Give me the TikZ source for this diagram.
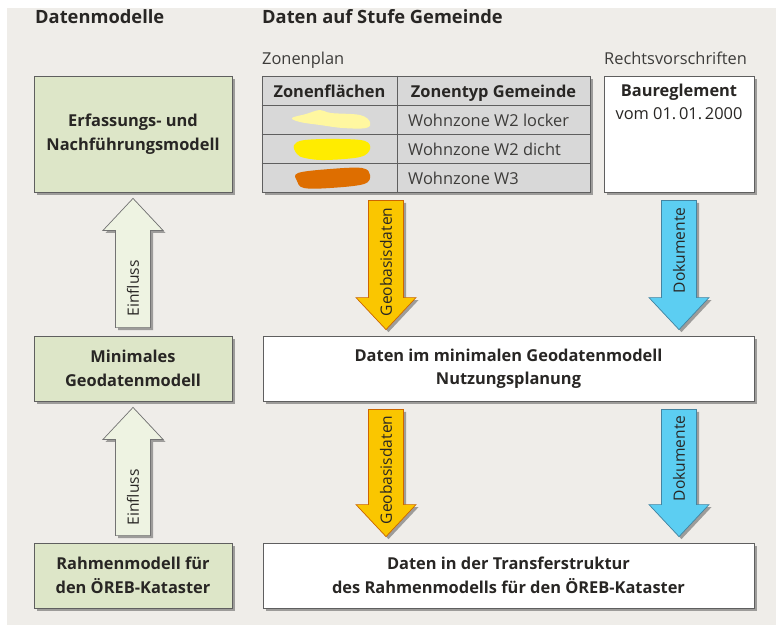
\documentclass[tikz,border=0pt]{standalone}
\usepackage{fontspec}
\setmainfont{Open Sans}
\usetikzlibrary{calc,shadows}

\definecolor{paper}{RGB}{239,237,233}
\definecolor{ink}{RGB}{40,38,36}
\definecolor{frame}{RGB}{95,95,95}
\definecolor{modellgreen}{RGB}{221,230,200}
\definecolor{einflussgreen}{RGB}{238,243,226}
\definecolor{tablegray}{RGB}{216,216,216}
\definecolor{geoyellow}{RGB}{250,198,0}
\definecolor{dokblue}{RGB}{92,206,242}
\definecolor{zoneA}{RGB}{255,247,160}
\definecolor{zoneB}{RGB}{255,236,0}
\definecolor{zoneC}{RGB}{222,110,0}

\tikzset{
  shade box/.style={drop shadow={shadow xshift=2.5pt,shadow yshift=-2.5pt,fill=black!70,opacity=.5}},
  modellbox/.style={draw=frame, line width=.8pt, fill=modellgreen, shade box, minimum width=198pt, align=center, font=\bfseries, text=ink},
  datenbox/.style={draw=frame, line width=.8pt, fill=white, shade box, minimum width=491pt, minimum height=65pt, align=center, font=\bfseries, text=ink},
  einfluss/.style={draw=black!55, line width=.7pt, fill=einflussgreen, shade box},
  geobasis/.style={draw=orange!80!black, line width=.7pt, fill=geoyellow, shade box},
  dokument/.style={draw=cyan!60!black, line width=.7pt, fill=dokblue, shade box},
  title/.style={anchor=base west, inner sep=0pt, font=\fontsize{18.3}{22}\selectfont\bfseries, text=ink},
  subtitle/.style={anchor=base west, inner sep=0pt, text=ink!90},
}

\begin{document}
\begin{tikzpicture}[x=1pt, y=-1pt, execute at begin picture={\fontsize{16.4}{23.5}\selectfont}]
\useasboundingbox (0,0) rectangle (776,625);
\fill[paper] (7,8) rectangle (776,625);

% column heads
\node[title] (headmodell) at (35,23) {Datenmodelle};
\node[title] (headdaten) at (262,23) {Daten auf Stufe Gemeinde};
\node[subtitle] (headzonen) at (262,64) {Zonenplan};
\node[subtitle] (headrecht) at (604,64) {Rechtsvorschriften};

% data models
\node[modellbox, minimum height=116pt] (erfassung) at (133,134) {Erfassungs- und\\Nachführungsmodell};
\node[modellbox, minimum height=65pt] (minimal) at (133,368.5) {Minimales\\Geodatenmodell};
\node[modellbox, minimum height=65pt] (rahmen) at (133,575.5) {Rahmenmodell für\\den ÖREB-Kataster};

% zonenplan
\node[draw=frame, line width=.8pt, fill=tablegray, shade box, minimum width=328pt, minimum height=116pt] (zonen) at (426,134) {};
\foreach \y in {105,134,163}
  \draw[frame, line width=.8pt] (zonen.west |- 0,\y) -- (zonen.east |- 0,\y);
\draw[frame, line width=.8pt] (397,0 |- zonen.north) -- (397,0 |- zonen.south);
\node[font=\bfseries, text=ink, anchor=base] (kopfflaeche) at (329.5,97) {Zonenflächen};
\node[font=\bfseries, text=ink, anchor=base] (kopftyp) at (493.5,97) {Zonentyp Gemeinde};
\foreach \y/\z in {126/Wohnzone W2 locker, 155/Wohnzone W2 dicht, 184/Wohnzone W3}
  \node[subtitle] (typ\y) at (408,\y) {\z};
\fill[zoneA] plot[smooth cycle, tension=.6] coordinates {(292,118) (306,114) (320,110) (331,113) (360,115) (370,122) (366,128) (343,128) (320,125) (300,122)};
\fill[zoneB] plot[smooth cycle, tension=.6] coordinates {(294,145) (305,140) (340,139) (365,141) (370,149) (360,157) (325,160) (305,158) (297,154)};
\fill[zoneC] plot[smooth cycle, tension=.6] coordinates {(298,173) (330,169) (362,168) (370,175) (364,184) (330,188) (304,188) (297,181)};

% rechtsvorschriften
\node[draw=frame, line width=.8pt, fill=white, shade box, minimum width=150pt, minimum height=116pt] (bau) at (679,134) {};
\node[anchor=north, align=center, text=ink, inner sep=0pt] (baulabel) at ($(bau.north)+(0,8)$) {\textbf{Baureglement}\\vom 01.\,01.\,2000};

% data
\node[datenbox] (nutzung) at (508.5,368.5) {Daten im minimalen Geodatenmodell\\Nutzungsplanung};
\node[datenbox] (transfer) at (508.5,575.5) {Daten in der Transferstruktur\\des Rahmenmodells für den ÖREB-Kataster};

% arrows
\coordinate (geoA) at ($(386,0 |- zonen.south)+(0,8)$);
\coordinate (geoAtip) at ($(386,0 |- nutzung.north)+(0,-6)$);
\coordinate (dokA) at ($(bau.south)+(0,8)$);
\coordinate (dokAtip) at ($(bau.south |- nutzung.north)+(0,-6)$);
\coordinate (geoB) at ($(386,0 |- nutzung.south)+(0,8)$);
\coordinate (geoBtip) at ($(386,0 |- transfer.north)+(0,-6)$);
\coordinate (dokB) at ($(bau.south |- nutzung.south)+(0,8)$);
\coordinate (dokBtip) at ($(bau.south |- transfer.north)+(0,-6)$);
\coordinate (einA) at ($(minimal.north)+(0,-8)$);
\coordinate (einAtip) at ($(erfassung.south)+(0,6)$);
\coordinate (einB) at ($(rahmen.north)+(0,-7)$);
\coordinate (einBtip) at ($(minimal.south)+(0,6)$);

\foreach \a/\b/\d/\s/\anc/\off/\lab in {
    geoA/geoAtip/1/geobasis/east/7/Geobasisdaten,
    dokA/dokAtip/1/dokument/east/7/Dokumente,
    geoB/geoBtip/1/geobasis/east/6/Geobasisdaten,
    dokB/dokBtip/1/dokument/east/6/Dokumente,
    einA/einAtip/-1/einfluss/west/-11/Einfluss,
    einB/einBtip/-1/einfluss/west/-10/Einfluss} {
  \draw[\s] ($(\a)+(-17.5,0)$) -- ($(\b)+(-17.5,{-32*(\d)})$) -- ($(\b)+(-30,{-32*(\d)})$) -- (\b)
    -- ($(\b)+(30,{-32*(\d)})$) -- ($(\b)+(17.5,{-32*(\d)})$) -- ($(\a)+(17.5,0)$) -- cycle;
  \node[rotate=90, anchor=\anc, text=ink, inner sep=0pt, font=\fontsize{15.6}{18}\selectfont] (lab\a) at ($(\a)+(0,\off)$) {\lab};
}
\end{tikzpicture}
\end{document}
